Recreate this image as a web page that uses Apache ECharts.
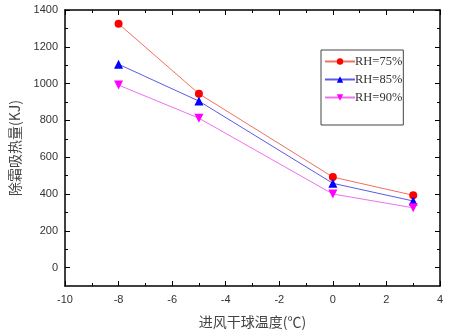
<!DOCTYPE html>
<html><head><meta charset="utf-8">
<script src="https://cdn.jsdelivr.net/npm/echarts@6/dist/echarts.min.js"></script>
<style>html,body{margin:0;padding:0;background:#fff}#c{width:456px;height:336px}</style>
</head><body><div id="c"></div>
<script>
const xValues = [-8, -5, 0, 3];
const rh75 = [1325, 945, 492, 393];
const rh85 = [1105, 905, 458, 362];
const rh90 = [992, 812, 400, 325];
const seriesNames = ['RH=75%', 'RH=85%', 'RH=90%'];
const yMajorTicks = [0, 200, 400, 600, 800, 1000, 1200, 1400];
const yMinorTicks = [100, 300, 500, 700, 900, 1100, 1300];

const pair = (vals) => xValues.map((x, i) => [x, vals[i]]);
const labelFont = {fontFamily: 'Liberation Sans, Arial', fontSize: 11, color: '#333'};
const axisLine = {show: true, onZero: false, lineStyle: {color: '#000', width: 1.5}};
const noLine = {show: false, onZero: false};

const yBase = {type: 'value', min: -100, max: 1400, splitLine: {show: false}};
const option = {
  animation: false,
  backgroundColor: '#fff',
  grid: {left: 65, top: 10, right: 16, bottom: 50, containLabel: false},
  xAxis: [
    {type: 'value', position: 'bottom', min: -10, max: 4, interval: 2,
     axisLine, splitLine: {show: false},
     axisTick: {inside: true, length: 5, lineStyle: {color: '#000'}},
     minorTick: {show: true, splitNumber: 2, length: 3, lineStyle: {color: '#000'}},
     axisLabel: Object.assign({margin: 8, formatter: v => String(v)}, labelFont),
     name: '进风干球温度(℃)', nameLocation: 'middle', nameGap: 29,
     nameTextStyle: {fontFamily: 'Noto Sans CJK SC', fontSize: 14, color: '#444'}},
    {type: 'value', position: 'top', min: -10, max: 4, interval: 2,
     axisLine, splitLine: {show: false},
     axisTick: {inside: true, length: 5, lineStyle: {color: '#000'}},
     minorTick: {show: true, splitNumber: 2, length: 3, lineStyle: {color: '#000'}},
     axisLabel: {show: false}}
  ],
  yAxis: [
    Object.assign({}, yBase, {position: 'left', axisLine,
      axisTick: {inside: true, length: 5, customValues: yMajorTicks, lineStyle: {color: '#000'}},
      axisLabel: Object.assign({margin: 7, customValues: yMajorTicks, formatter: v => String(v)}, labelFont),
      name: '除霜吸热量(KJ)', nameLocation: 'middle', nameGap: 43, nameRotate: 90,
      nameTextStyle: {fontFamily: 'Noto Sans CJK SC', fontSize: 14, color: '#444'}}),
    Object.assign({}, yBase, {position: 'left', axisLine: noLine,
      axisTick: {inside: true, length: 3, customValues: yMinorTicks, lineStyle: {color: '#000'}},
      axisLabel: {show: false}}),
    Object.assign({}, yBase, {position: 'right', axisLine,
      axisTick: {inside: true, length: 5, customValues: yMajorTicks, lineStyle: {color: '#000'}},
      axisLabel: {show: false}}),
    Object.assign({}, yBase, {position: 'right', axisLine: noLine,
      axisTick: {inside: true, length: 3, customValues: yMinorTicks, lineStyle: {color: '#000'}},
      axisLabel: {show: false}})
  ],
  legend: {
    orient: 'vertical', left: 321, top: 50,
    borderColor: '#444', borderWidth: 1, padding: [5, 1, 21, 3],
    itemWidth: 30, itemHeight: 8, itemGap: 5,
    textStyle: {fontFamily: 'Liberation Serif', fontSize: 12.5, color: '#333', padding: [0, 0, 0, -5]},
    data: seriesNames
  },
  series: [
    {name: seriesNames[0], type: 'line', data: pair(rh75), symbol: 'circle', symbolSize: 8,
     itemStyle: {color: '#ff0000'}, lineStyle: {color: '#f07060', width: 1}},
    {name: seriesNames[1], type: 'line', data: pair(rh85), symbol: 'triangle', symbolSize: 9,
     itemStyle: {color: '#0000ff'}, lineStyle: {color: '#5a5ae8', width: 1}},
    {name: seriesNames[2], type: 'line', data: pair(rh90), symbol: 'triangle', symbolRotate: 180, symbolSize: 9,
     itemStyle: {color: '#ff00ff'}, lineStyle: {color: '#f070f0', width: 1}}
  ]
};
echarts.init(document.getElementById('c'), null, {renderer: 'canvas'}).setOption(option);
</script></body></html>
